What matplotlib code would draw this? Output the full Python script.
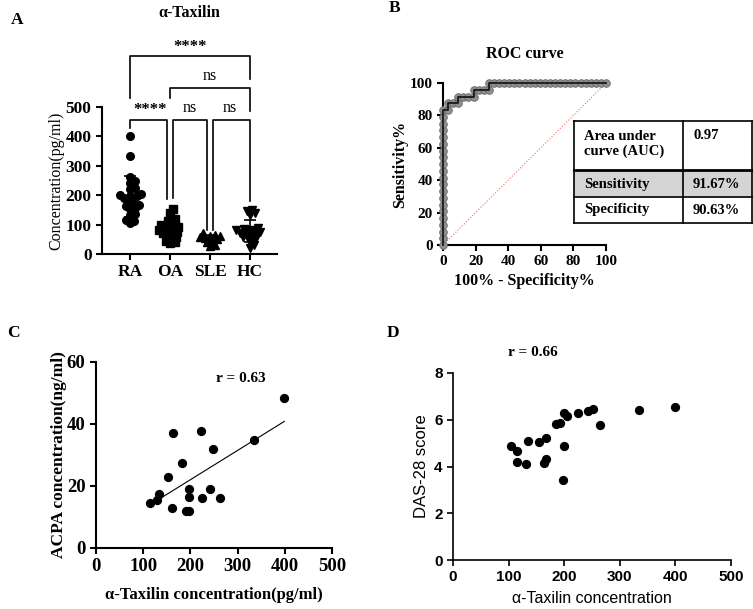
import numpy as np
import matplotlib
matplotlib.use("Agg")
import matplotlib.pyplot as plt
from matplotlib.patches import Rectangle

SERIF = "Liberation Serif"
SANS = "Liberation Sans"
plt.rcParams['font.family'] = [SERIF, 'DejaVu Serif']

# --- DATA ---
# Panel A: alpha-Taxilin concentration (pg/ml) per group
groups = ["RA", "OA", "SLE", "HC"]
ra_vals = [400, 333, 263, 248, 241, 225, 222, 205, 200, 198, 196, 192,
           185, 183, 170, 165, 163, 155, 153, 135, 131, 115, 113, 104]
oa_vals = [153, 141, 120, 112, 105, 100, 96, 92, 88, 85, 82, 78, 75, 72,
           68, 62, 58, 52, 45, 40, 36]
sle_vals = [70, 66, 62, 60, 57, 55, 50, 45, 40, 32, 28]
hc_vals = [150, 145, 138, 132, 90, 85, 82, 80, 78, 75, 72, 70, 66, 62,
           58, 55, 48, 40, 30, 22]
# significance brackets: (left group, right group, height, left leg end, right leg end, label)
brackets = [
    (0, 3, 673, 531, 595, "****"),
    (1, 3, 565, 531, 486, "ns"),
    (0, 1, 457, 430, 188, "****"),
    (1, 2, 457, 190, 80, "ns"),
    (2, 3, 457, 80, 181, "ns"),
]

# Panel B: ROC curve, cumulative false positives (of 32) and true positives (of 24)
n_neg, n_pos = 32, 24
roc_fp = [0]*21 + [1, 1, 2, 3, 3, 4, 5, 6, 6, 7, 8, 9, 9] + list(range(10, 33))
roc_tp = list(range(0, 21)) + [20, 21, 21, 21, 22, 22, 22, 22, 23, 23, 23, 23, 24] + [24]*23
auc_text = "0.97"
sens_text = "91.67%"
spec_text = "90.63%"

# Panel C: alpha-Taxilin vs ACPA
c_x = [114, 129, 133, 153, 162, 164, 183, 190, 197, 196, 198, 222, 224,
       241, 248, 263, 334, 399]
c_y = [14.5, 15.4, 17.4, 23.0, 12.9, 37.2, 27.5, 11.8, 11.8, 19.0, 16.3,
       37.6, 16.0, 19.0, 32.0, 16.0, 34.8, 48.5]
r_c = "r = 0.63"

# Panel D: alpha-Taxilin vs DAS-28
d_x = [104, 115, 115, 131, 135, 155, 167, 164, 167, 185, 192, 199, 198,
       200, 205, 225, 243, 251, 265, 335, 400]
d_y = [4.89, 4.67, 4.21, 4.11, 5.07, 5.04, 5.21, 4.17, 4.32, 5.81, 5.88,
       4.89, 3.43, 6.31, 6.14, 6.31, 6.39, 6.46, 5.76, 6.43, 6.54]
r_d = "r = 0.66"

W, H = 753, 609
fig = plt.figure(figsize=(W/100, H/100), dpi=100)


def px_axes(l, t, r, b):
    return fig.add_axes([l/W, 1-b/H, (r-l)/W, (b-t)/H])


def style_axes(ax, lw=1.5):
    for s in ['top', 'right']:
        ax.spines[s].set_visible(False)
    for s in ['left', 'bottom']:
        ax.spines[s].set_linewidth(lw)
    ax.tick_params(direction='out', length=4, width=lw)


def swarm(vals, center, px_per_cat, px_per_unit, d_px=4.6, step=1.0):
    vals = np.asarray(vals, float)
    xs = np.zeros(len(vals))
    placed = []
    for i in np.argsort(vals):
        y = vals[i]*px_per_unit
        k = 0
        while True:
            off = ((k+1)//2)*step*(1 if k % 2 else -1)
            if all((off-px)**2 + (y-py)**2 >= d_px**2 for px, py in placed):
                break
            k += 1
        placed.append((off, y))
        xs[i] = center + off/px_per_cat
    return xs


# ---------------- Panel A ----------------
axA = px_axes(102, 107, 277, 254)
style_axes(axA)
axA.set_xlim(-0.7, 3.675)
axA.set_ylim(0, 500)
markers = ['o', 's', '^', 'v']
sizes = [5.5, 6, 5.5, 6]
for i, vals in enumerate([ra_vals, oa_vals, sle_vals, hc_vals]):
    xs = swarm(vals, i, 40, 147/500)
    axA.plot(xs, vals, linestyle='none', marker=markers[i], ms=sizes[i],
             color='black', zorder=3)
    m, sd = np.mean(vals), np.std(vals, ddof=1)
    axA.plot([i-0.27, i+0.27], [m, m], color='black', lw=1.2, zorder=4)
    axA.errorbar(i, m, yerr=sd, color='black', lw=1.2, capsize=4,
                 capthick=1.2, zorder=4)
axA.set_xticks(range(4))
axA.set_xticklabels(groups, fontsize=12.5, fontweight='bold')
axA.set_yticks(range(0, 501, 100))
axA.set_yticklabels([str(v) for v in range(0, 501, 100)], fontsize=12.5,
                    fontweight='bold')
axA.set_ylabel("Concentration(pg/ml)", fontsize=11.5, labelpad=1)
fig.text(189/W, 1-13/H, "α-Taxilin", fontsize=11.5, fontweight='bold',
         ha='center', va='center')

for g1, g2, h, l1, l2, lab in brackets:
    x1 = g1 + (0.075 if (g2 - g1 == 1 and g1 > 0) else 0)
    x2 = g2 - (0.075 if (g2 - g1 == 1 and g2 < 3) else 0)
    axA.plot([x1, x1, x2, x2], [l1, h, h, l2], color='black', lw=1.2,
             clip_on=False)
    ty = h + 40
    if lab == "ns":
        axA.text((g1+g2)/2 if g2-g1 == 1 else 2, ty, lab, ha='center',
                 va='center', fontsize=11.5)
    else:
        axA.text((g1+g2)/2, ty - 8, lab, ha='center', va='center',
                 fontsize=12, fontweight='bold')

# ---------------- Panel B ----------------
axB = px_axes(443, 83, 606, 245)
style_axes(axB)
fpr = np.array(roc_fp)/n_neg*100
tpr = np.array(roc_tp)/n_pos*100
axB.plot([0, 100], [0, 100], color='#f07070', lw=0.8, linestyle=':')
axB.plot(fpr, tpr, linestyle='none', marker='o', ms=5.5,
         markerfacecolor='#8e8e8e', markeredgecolor='#6a6a6a',
         markeredgewidth=0.6, clip_on=False, zorder=3)
axB.plot(fpr, tpr, color='#1a1a1a', lw=1.3, clip_on=False, zorder=4)
axB.set_xlim(0, 100)
axB.set_ylim(0, 100)
axB.set_xticks(range(0, 101, 20))
axB.set_yticks(range(0, 101, 20))
for lab in axB.get_xticklabels() + axB.get_yticklabels():
    lab.set_fontsize(11)
    lab.set_fontweight('bold')
axB.set_xlabel("100% - Specificity%", fontsize=11.5, fontweight='bold',
               labelpad=3)
axB.set_ylabel("Sensitivity%", fontsize=11.5, fontweight='bold', labelpad=1)
axB.set_title("ROC curve", fontsize=11.5, fontweight='bold', pad=18)

# table
tx0, tx1, tx2 = 574, 683, 752
ty0, ty1, ty2, ty3 = 121, 170, 197, 223
fig.add_artist(Rectangle((tx0/W, 1-ty2/H), (tx2-tx0)/W, (ty2-ty1)/H,
                         transform=fig.transFigure, facecolor='#d4d4d4',
                         edgecolor='none'))


def fline(xa, ya, xb, yb, lw=1.2):
    fig.add_artist(plt.Line2D([xa/W, xb/W], [1-ya/H, 1-yb/H], color='black',
                              lw=lw, transform=fig.transFigure))


for yy, lw in [(ty0, 1.2), (ty1, 2.0), (ty2, 1.2), (ty3, 1.2)]:
    fline(tx0, yy, tx2, yy, lw)
for xx in [tx0, tx1, tx2 - 0.5]:
    fline(xx, ty0, xx, ty3)
cells = [("Area under\ncurve (AUC)", auc_text, 144),
         ("Sensitivity", sens_text, 184),
         ("Specificity", spec_text, 210)]
for i, (a, b, yy) in enumerate(cells):
    fig.text(584/W, 1-yy/H, a, fontsize=10.5, fontweight='bold', va='center',
             ha='left', linespacing=1.2)
    yb = 135 if i == 0 else yy
    fig.text(693/W, 1-yb/H, b, fontsize=10.5, fontweight='bold', va='center',
             ha='left')

# ---------------- Panel C ----------------
axC = px_axes(96, 362, 332, 548)
style_axes(axC)
axC.scatter(c_x, c_y, s=32, color='black', zorder=3)
k, b0 = np.polyfit(c_x, c_y, 1)
xl = np.array([min(c_x), max(c_x)])
axC.plot(xl, k*xl + b0, color='black', lw=0.8, zorder=2)
axC.set_xlim(0, 500)
axC.set_ylim(0, 60)
axC.set_xticks(range(0, 501, 100))
axC.set_yticks(range(0, 61, 20))
for lab in axC.get_xticklabels() + axC.get_yticklabels():
    lab.set_fontsize(13.5)
    lab.set_fontweight('bold')
axC.set_xlabel("α-Taxilin concentration(pg/ml)", fontsize=12,
               fontweight='bold', labelpad=8)
axC.set_ylabel("ACPA concentration(ng/ml)", fontsize=12.5, fontweight='bold',
               labelpad=0)
axC.text(306, 54.7, r_c, fontsize=11, fontweight='bold', ha='center',
         va='center')

# ---------------- Panel D ----------------
axD = px_axes(453, 373, 731, 560)
style_axes(axD, lw=1.2)
axD.scatter(d_x, d_y, s=32, color='black', zorder=3)
axD.set_xlim(0, 500)
axD.set_ylim(0, 8)
axD.set_xticks(range(0, 501, 100))
axD.set_yticks(range(0, 9, 2))
for lab in axD.get_xticklabels() + axD.get_yticklabels():
    lab.set_fontsize(11)
    lab.set_fontweight('bold')
    lab.set_family([SANS, 'DejaVu Sans'])
axD.set_xlabel("α-Taxilin concentration", fontsize=11.5,
               family=[SANS, 'DejaVu Sans'], labelpad=5)
axD.set_ylabel("DAS-28 score", fontsize=12, family=[SANS, 'DejaVu Sans'],
               labelpad=4)
axD.text(143, 8.87, r_d, fontsize=11, fontweight='bold', ha='center',
         va='center', clip_on=False)

# panel letters
for lab, x, y in [("A", 17, 20), ("B", 395, 8), ("C", 13, 333), ("D", 393, 333)]:
    fig.text(x/W, 1-y/H, lab, fontsize=12.5, fontweight='bold', ha='center',
             va='center')

fig.savefig("out.png", dpi=100)
